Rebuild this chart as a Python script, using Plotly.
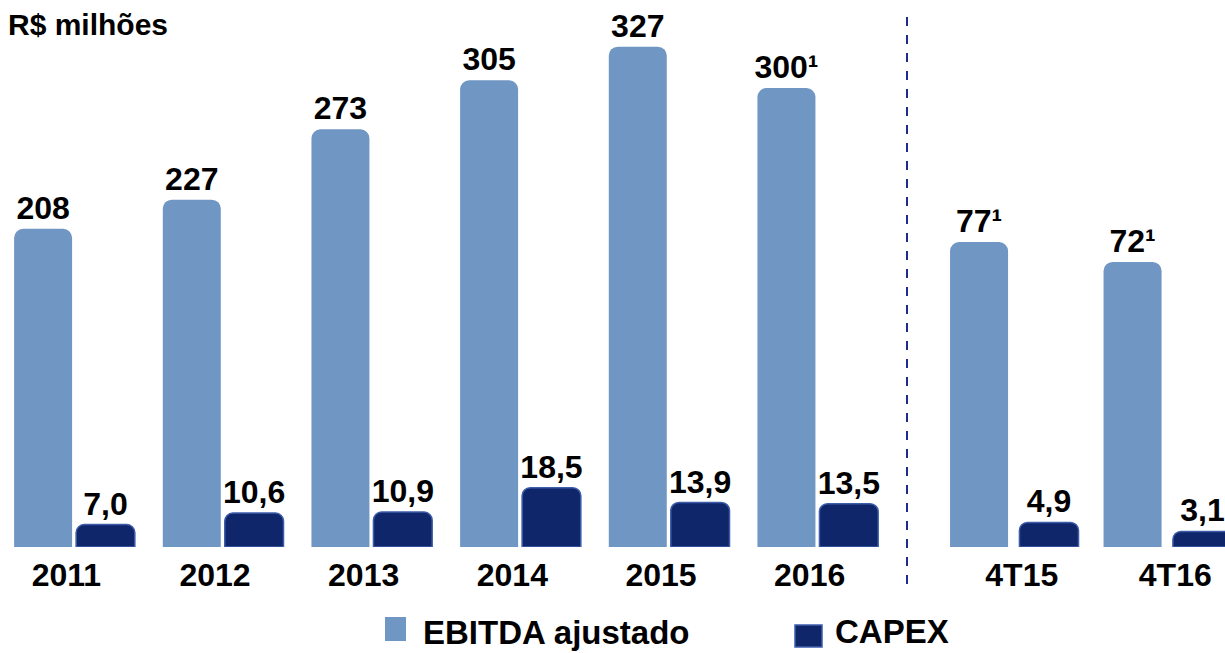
import plotly.graph_objects as go

# Annual figures (R$ millions)
anos = ["2011", "2012", "2013", "2014", "2015", "2016"]
ebitda_anual = [208, 227, 273, 305, 327, 300]
capex_anual = [7.0, 10.6, 10.9, 18.5, 13.9, 13.5]
nota_ebitda_anual = ["", "", "", "", "", "¹"]

# Fourth-quarter figures (R$ millions)
trimestres = ["4T15", "4T16"]
ebitda_tri = [77, 72]
capex_tri = [4.9, 3.1]
nota_ebitda_tri = ["¹", "¹"]

legenda = ["EBITDA ajustado", "CAPEX"]

W, H = 1225, 653
COR_EBITDA = "#7096C3"
COR_CAPEX = "#10266A"
BORDA_CAPEX = "#3D5DAA"
FONTE = "Liberation Sans"
ROTULO = dict(family=FONTE, size=32, color="black", weight="bold")


def fmt_int(vals, notas):
    return [f"{v:d}{n}" for v, n in zip(vals, notas)]


def fmt_dec(vals):
    return [f"{v:.1f}".replace(".", ",") for v in vals]


def px_x(p):
    return p / W


def px_y(p):
    return 1 - p / H


fig = go.Figure()

common = dict(textposition="outside", cliponaxis=False, constraintext="none",
              textfont=ROTULO, showlegend=False, hoverinfo="x+y")

fig.add_trace(go.Bar(x=anos, y=ebitda_anual, text=fmt_int(ebitda_anual, nota_ebitda_anual),
                     name=legenda[0], marker=dict(color=COR_EBITDA, cornerradius=9, line_width=0),
                     width=0.39, offset=-0.405, xaxis="x", yaxis="y", **common))
fig.add_trace(go.Bar(x=anos, y=capex_anual, text=fmt_dec(capex_anual),
                     name=legenda[1], marker=dict(color=COR_CAPEX, cornerradius=8,
                                                  line=dict(color=BORDA_CAPEX, width=1.5)),
                     width=0.395, offset=0.012, xaxis="x", yaxis="y2", **common))
fig.add_trace(go.Bar(x=trimestres, y=ebitda_tri, text=fmt_int(ebitda_tri, nota_ebitda_tri),
                     name=legenda[0], marker=dict(color=COR_EBITDA, cornerradius=9, line_width=0),
                     width=0.378, offset=-0.415, xaxis="x2", yaxis="y3", **common))
fig.add_trace(go.Bar(x=trimestres, y=capex_tri, text=fmt_dec(capex_tri),
                     name=legenda[1], marker=dict(color=COR_CAPEX, cornerradius=8,
                                                  line=dict(color=BORDA_CAPEX, width=1.5)),
                     width=0.385, offset=0.037, xaxis="x2", yaxis="y4", **common))

y_bottom = px_y(547)
y_top = 0.985
dom_px = (y_top - y_bottom) * H

tick_font = dict(family=FONTE, size=32, color="black", weight="bold")
xcommon = dict(showgrid=False, zeroline=False, showline=False, ticks="",
               tickfont=tick_font, fixedrange=True, ticklabelstandoff=6)
ycommon = dict(visible=False, showgrid=False, zeroline=False, fixedrange=True,
               domain=[y_bottom, y_top])

Q0 = 937  # left edge of the quarterly panel, px
fig.update_layout(
    width=W, height=H,
    margin=dict(l=0, r=0, t=0, b=0),
    paper_bgcolor="white", plot_bgcolor="white",
    barmode="overlay",
    xaxis=dict(domain=[0, px_x(892)], anchor="y", range=[-0.5, 5.5],
               ticklabelshift=-8, **xcommon),
    xaxis2=dict(domain=[px_x(Q0), 1], anchor="y3",
                range=[-0.5, -0.5 + (W - Q0) / 153.5], ticklabelshift=8, **xcommon),
    yaxis=dict(range=[0, dom_px / 1.53], anchor="x", **ycommon),
    yaxis2=dict(range=[0, dom_px / 3.2], overlaying="y", anchor="x", **ycommon),
    yaxis3=dict(range=[0, dom_px / 3.96], anchor="x2", **ycommon),
    yaxis4=dict(range=[0, dom_px / 5.0], overlaying="y3", anchor="x2", **ycommon),
    font=dict(family=FONTE, color="black"),
)

# Unit caption
fig.add_annotation(text="R$ milhões", xref="paper", yref="paper", x=px_x(6), y=px_y(6),
                   xanchor="left", yanchor="top", showarrow=False,
                   font=dict(family=FONTE, size=30, color="black", weight="bold"))

# Divider between annual and quarterly panels
fig.add_shape(type="line", xref="paper", yref="paper",
              x0=px_x(907), x1=px_x(907), y0=px_y(17), y1=px_y(587),
              line=dict(color="#1F2C8F", width=2, dash="dash"))

# Legend swatches and labels
fig.add_shape(type="rect", xref="paper", yref="paper",
              x0=px_x(385), x1=px_x(406), y0=px_y(641), y1=px_y(617),
              fillcolor=COR_EBITDA, line=dict(width=0))
fig.add_shape(type="rect", xref="paper", yref="paper",
              x0=px_x(795), x1=px_x(822), y0=px_y(647), y1=px_y(625),
              fillcolor=COR_CAPEX, line=dict(color=BORDA_CAPEX, width=1.5))
fig.add_annotation(text=legenda[0], xref="paper", yref="paper", x=px_x(421), y=px_y(632),
                   xanchor="left", yanchor="middle", showarrow=False,
                   font=dict(family=FONTE, size=33, color="black", weight="bold"))
fig.add_annotation(text=legenda[1], xref="paper", yref="paper", x=px_x(833), y=px_y(631),
                   xanchor="left", yanchor="middle", showarrow=False,
                   font=dict(family=FONTE, size=33, color="black", weight="bold"))

fig.write_html("out.html")
